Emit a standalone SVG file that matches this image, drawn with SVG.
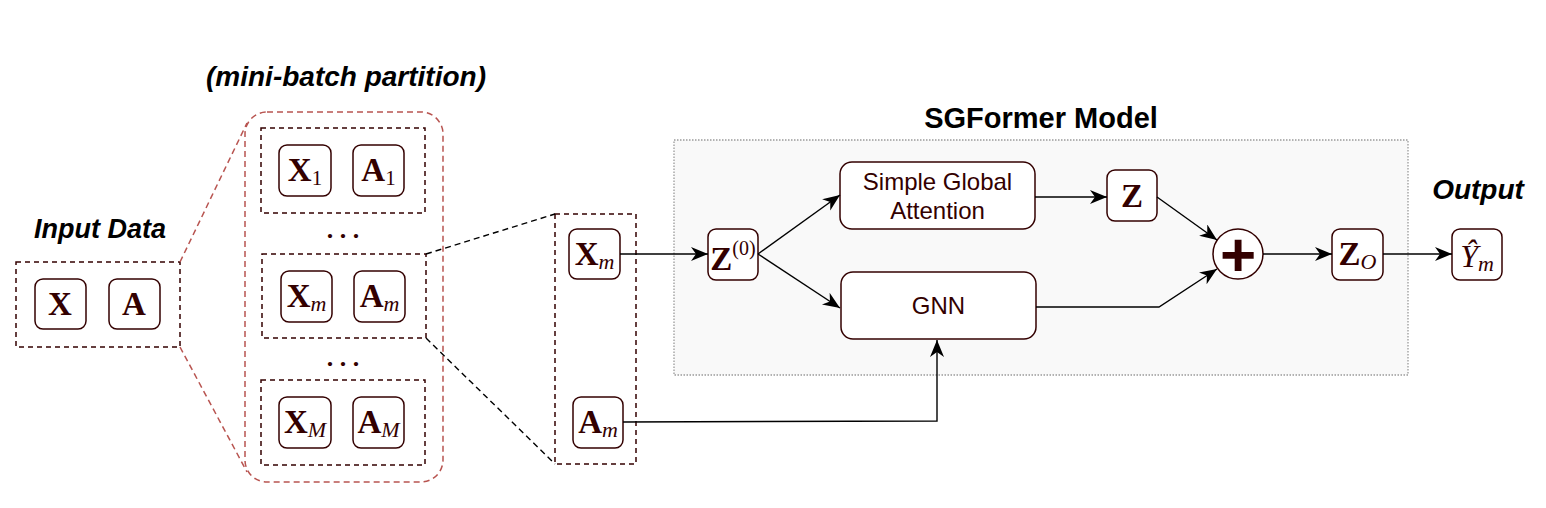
<svg xmlns="http://www.w3.org/2000/svg" width="1546" height="508" viewBox="0 0 1546 508">
<defs>
<marker id="arr" markerUnits="userSpaceOnUse" markerWidth="20" markerHeight="18" refX="17" refY="7" orient="auto">
<path d="M0,0 L17,7 L0,14 L5,7 Z" fill="#000"/>
</marker>
<style>
.node{fill:#fff;stroke:#330000;stroke-width:1.5}
.dbox{fill:none;stroke:#330000;stroke-width:1.5;stroke-dasharray:5 4}
.rbox{fill:none;stroke:#b85450;stroke-width:1.5;stroke-dasharray:6 4}
.conn{fill:none;stroke:#000;stroke-width:1.4}
.dconn{fill:none;stroke:#000;stroke-width:1.4;stroke-dasharray:6 4}
.m{font-family:"Liberation Serif",serif;fill:#330000;text-anchor:middle}
.b{font-weight:bold;font-size:33px}
.s{font-style:italic;font-size:22px}
.n{font-style:normal;font-size:21px}
.lab{font-family:"Liberation Sans",Arial,sans-serif;fill:#330000;font-size:24px;text-anchor:middle}
.title{font-family:"Liberation Sans",Arial,sans-serif;fill:#000;font-weight:bold;text-anchor:middle}
</style>
</defs>
<rect width="1546" height="508" fill="#fff"/>

<g id="sgformer-container">
<rect x="674" y="140" width="734" height="235" fill="#f9f9f9" stroke="#9a9a9a" stroke-width="1.3" stroke-dasharray="1.5 1.5"/>
<text class="title" x="1041" y="128" font-size="29">SGFormer Model</text>
</g>

<g id="titles">
<text class="title" x="100" y="238" font-size="27" font-style="italic">Input Data</text>
<text class="title" x="346" y="86" font-size="28" font-style="italic">(mini-batch partition)</text>
<text class="title" x="1478" y="199" font-size="28" font-style="italic">Output</text>
</g>

<g id="input-data">
<rect class="dbox" x="16" y="262" width="164" height="85"/>
<g id="node-X"><rect class="node" x="35" y="279" width="51" height="50" rx="8"/><text class="m b" x="60" y="315">X</text></g>
<g id="node-A"><rect class="node" x="109" y="279" width="51" height="50" rx="8"/><text class="m b" x="134" y="315">A</text></g>
</g>

<g id="partition">
<rect class="rbox" x="245" y="112" width="198" height="370" rx="22"/>
<g id="batch-1">
<rect class="dbox" x="261" y="128" width="164" height="85"/>
<g id="node-X1"><rect class="node" x="279" y="145" width="52" height="51" rx="8"/><text class="m" x="305" y="181"><tspan class="b">X</tspan><tspan class="n" dy="4">1</tspan></text></g>
<g id="node-A1"><rect class="node" x="353" y="145" width="51" height="51" rx="8"/><text class="m" x="378.5" y="181"><tspan class="b">A</tspan><tspan class="n" dy="4">1</tspan></text></g>
</g>
<text class="m" x="343" y="238" font-size="26" font-weight="bold" fill="#000">. . .</text>
<g id="batch-m">
<rect class="dbox" x="262" y="254" width="164" height="84"/>
<g id="node-Xm"><rect class="node" x="281" y="271" width="51" height="51" rx="8"/><text class="m" x="306.5" y="307"><tspan class="b">X</tspan><tspan class="s" dy="4">m</tspan></text></g>
<g id="node-Am"><rect class="node" x="354" y="271" width="51" height="51" rx="8"/><text class="m" x="379.5" y="307"><tspan class="b">A</tspan><tspan class="s" dy="4">m</tspan></text></g>
</g>
<text class="m" x="343" y="366" font-size="26" font-weight="bold" fill="#000">. . .</text>
<g id="batch-M">
<rect class="dbox" x="261" y="380" width="164" height="85"/>
<g id="node-XM"><rect class="node" x="279" y="397" width="52" height="51" rx="8"/><text class="m" x="305" y="433"><tspan class="b">X</tspan><tspan class="s" dy="4">M</tspan></text></g>
<g id="node-AM"><rect class="node" x="353" y="397" width="51" height="51" rx="8"/><text class="m" x="378.5" y="433"><tspan class="b">A</tspan><tspan class="s" dy="4">M</tspan></text></g>
</g>
</g>

<g id="selected-batch">
<rect class="dbox" x="555" y="214" width="81" height="250"/>
<g id="node-Xm-sel"><rect class="node" x="569" y="229" width="51" height="50" rx="8"/><text class="m" x="594.5" y="265"><tspan class="b">X</tspan><tspan class="s" dy="4">m</tspan></text></g>
<g id="node-Am-sel"><rect class="node" x="573" y="397" width="50" height="51" rx="8"/><text class="m" x="598" y="433"><tspan class="b">A</tspan><tspan class="s" dy="4">m</tspan></text></g>
</g>

<g id="node-Z0"><rect class="node" x="708" y="229" width="50" height="51" rx="8"/><text class="m" x="733" y="270"><tspan class="b">Z</tspan><tspan font-size="20" dy="-15">(0)</tspan></text></g>
<g id="node-SGA"><rect class="node" x="840" y="162" width="195" height="67" rx="12"/><text class="lab" x="937.5" y="190">Simple Global</text><text class="lab" x="937.5" y="219">Attention</text></g>
<g id="node-GNN"><rect class="node" x="841" y="272" width="195" height="67" rx="12"/><text class="lab" x="938.5" y="314">GNN</text></g>
<g id="node-Z"><rect class="node" x="1107" y="170" width="50" height="51" rx="8"/><text class="m b" x="1132" y="207">Z</text></g>
<g id="node-plus"><circle cx="1238" cy="254" r="25" fill="#fff" stroke="#330000" stroke-width="1.5"/><text x="1238" y="276" font-family="Liberation Sans,Arial,sans-serif" font-weight="bold" font-size="62" fill="#330000" text-anchor="middle">+</text></g>
<g id="node-ZO"><rect class="node" x="1332" y="229" width="51" height="51" rx="8"/><text class="m" x="1357.5" y="265"><tspan class="b">Z</tspan><tspan class="s" dy="4">O</tspan></text></g>
<g id="node-Yhat"><rect class="node" x="1452" y="229" width="50" height="51" rx="8"/><text class="m" x="1477" y="267"><tspan font-style="italic" font-size="32">Ŷ</tspan><tspan class="s" dy="4">m</tspan></text></g>

<g id="connectors">
<line class="rbox" x1="180" y1="262" x2="247" y2="123"/>
<line class="rbox" x1="180" y1="347" x2="247" y2="472"/>
<line class="dconn" x1="426" y1="254" x2="555" y2="214"/>
<line class="dconn" x1="426" y1="338" x2="555" y2="464"/>
<line class="conn" x1="620" y1="254" x2="708" y2="254" marker-end="url(#arr)"/>
<line class="conn" x1="758" y1="254" x2="840" y2="195" marker-end="url(#arr)"/>
<line class="conn" x1="758" y1="254" x2="840" y2="308" marker-end="url(#arr)"/>
<polyline class="conn" points="623,422 937,421 937,340" marker-end="url(#arr)"/>
<line class="conn" x1="1035" y1="197" x2="1107" y2="197" marker-end="url(#arr)"/>
<line class="conn" x1="1157" y1="197" x2="1217" y2="240" marker-end="url(#arr)"/>
<polyline class="conn" points="1036,307 1159,307 1217,269" marker-end="url(#arr)"/>
<line class="conn" x1="1263" y1="254" x2="1332" y2="254" marker-end="url(#arr)"/>
<line class="conn" x1="1383" y1="254" x2="1452" y2="254" marker-end="url(#arr)"/>
</g>
</svg>
